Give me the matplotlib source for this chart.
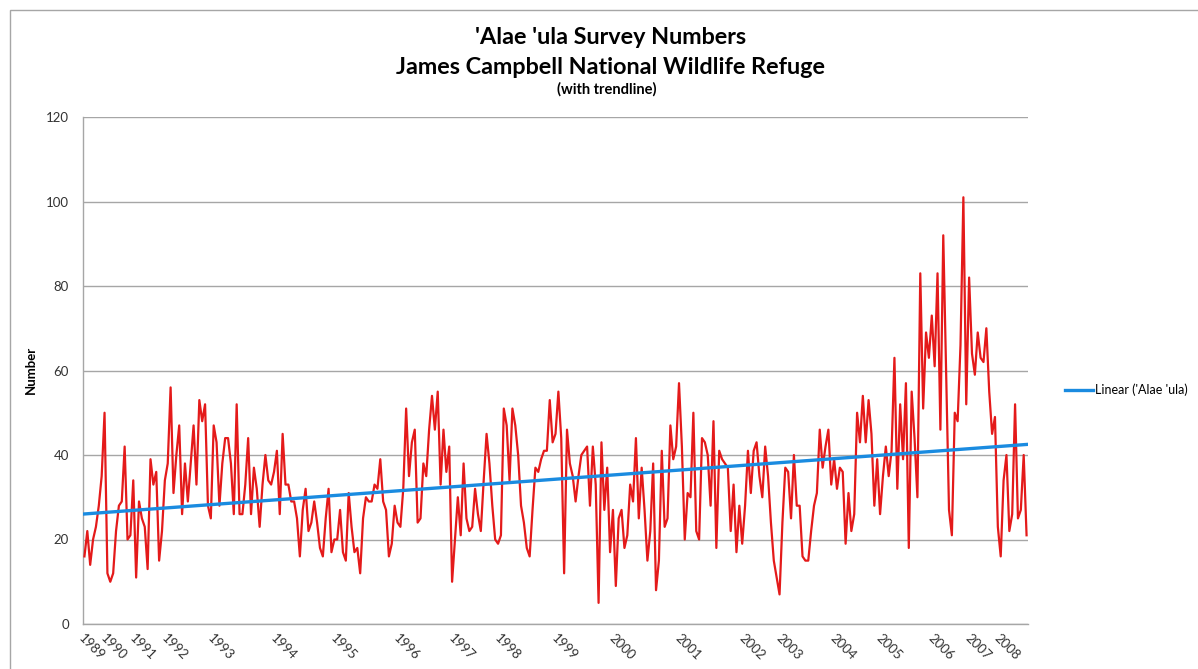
import numpy as np
import matplotlib
matplotlib.use("Agg")
import matplotlib.pyplot as plt
from matplotlib.patches import Rectangle

# survey counts, in survey order
counts = [
    16, 22, 14, 20, 23, 28, 35, 50, 12, 10, 12, 22, 28, 29, 42, 20, 21, 34, 11, 29,
    25, 23, 13, 39, 33, 36, 15, 22, 34, 38, 56, 31, 40, 47, 26, 38, 29, 38, 47, 33,
    53, 48, 52, 28, 25, 47, 43, 28, 38, 44, 44, 38, 26, 52, 26, 26, 33, 44, 26, 37,
    32, 23, 33, 40, 34, 33, 36, 41, 26, 45, 33, 33, 29, 29, 25, 16, 27, 32, 22,
    24, 29, 24, 18, 16, 25, 32, 17, 20, 20, 27, 17, 15, 31, 23, 17, 18, 12, 25, 30,
    29, 29, 33, 32, 39, 29, 27, 16, 19, 28, 24, 23, 32, 51, 35, 43, 46, 24, 25, 38,
    35, 46, 54, 46, 55, 33, 46, 36, 42, 10, 20, 30, 21, 38, 25, 22, 23, 32, 26, 22,
    34, 45, 38, 28, 20, 19, 21, 51, 47, 34, 51, 47, 40, 28, 24, 18,
    16, 27, 37, 36, 39, 41, 41, 53, 43, 45, 55, 44, 12, 46, 38, 35, 29, 35, 40, 41,
    42, 28, 42, 33, 5, 43, 27, 37, 17, 27, 9, 25, 27, 18, 21, 33, 29, 44, 25, 37,
    27, 15, 22, 38, 8, 15, 41, 23, 25, 47, 39, 42, 57, 42, 20, 31, 30, 50, 22, 20,
    44, 43, 40, 28, 48, 18, 41, 39, 38, 37, 22, 33, 17, 28, 19, 28, 41, 31,
    41, 43, 35, 30, 42, 35, 24, 15, 11, 7, 24, 37, 36, 25, 40, 28, 28, 16, 15, 15,
    22, 28, 31, 46, 37, 42, 46, 33, 39, 32, 37, 36, 19, 31, 22, 26, 50, 43, 54,
    43, 53, 45, 28, 39, 26, 35, 42, 35, 41, 63, 32, 52, 39, 57, 18, 55, 44, 30, 83,
    51, 69, 63, 73, 61, 83, 46, 92, 59, 27, 21, 50, 48, 66, 101, 52, 82, 64, 59, 69,
    63, 62, 70, 55, 45, 49, 23, 16, 34, 40, 22, 26, 52, 25, 27, 40, 21,
]

year_labels = ['1989', '1990', '1991', '1992', '1993', '1994', '1995', '1996', '1997', '1998',
               '1999', '2000', '2001', '2002', '2003', '2004', '2005', '2006', '2007', '2008']
surveys_per_year = [8, 10, 11, 16, 22, 21, 22, 19, 16, 20,
                    20, 23, 22, 13, 19, 16, 18, 13, 10, 10]

FONT = ['Lato', 'DejaVu Sans']
plt.rcParams['font.family'] = FONT

fig = plt.figure(figsize=(11.98, 6.69), dpi=100)
fig.patches.append(Rectangle((10 / 1198, -0.01), 1.0, 1 - 10 / 669 + 0.01, transform=fig.transFigure,
                             fill=False, edgecolor='#a6a6a6', linewidth=1.0))

ax = fig.add_axes([83 / 1198, 1 - 624 / 669, (1028 - 83) / 1198, (624 - 117) / 669])

x = np.arange(len(counts))
y = np.array(counts, dtype=float)
ax.plot(x, y, color='#e41a1a', linewidth=1.6, zorder=3)

# linear trendline fitted to the counts
slope, intercept = np.polyfit(x, y, 1)
xt = np.array([-0.5, len(counts) - 0.5])
ax.plot(xt, slope * xt + intercept, color='#1a8be0', linewidth=2.4, zorder=4,
        label="Linear ('Alae 'ula)")

ax.set_xlim(-0.5, len(counts) - 0.5)
ax.set_ylim(0, 120)
ax.set_yticks(range(0, 121, 20))
ax.yaxis.grid(True, color='#a6a6a6', linewidth=1.0)
ax.set_axisbelow(True)
for s in ['top', 'right']:
    ax.spines[s].set_visible(False)
for s in ['left', 'bottom']:
    ax.spines[s].set_color('#a6a6a6')
    ax.spines[s].set_linewidth(1.0)
ax.tick_params(axis='y', length=0, labelsize=9.5, pad=10, labelcolor='#333333')
ax.tick_params(axis='x', length=0, labelsize=9.5, pad=6, labelcolor='#333333')

starts = np.concatenate([[0], np.cumsum(surveys_per_year)[:-1]])
ax.set_xticks(starts)
ax.set_xticklabels(year_labels, rotation=-45, ha='left', va='top', rotation_mode='anchor')

ax.set_ylabel('Number', fontsize=9.5, fontweight='bold')
ax.yaxis.set_label_coords((37 - 83) / 945, (624 - 370) / 507)

fig.text(611 / 1198, 1 - 37 / 669, "'Alae 'ula Survey Numbers", ha='center', va='center',
         fontsize=16.8, fontweight='bold')
fig.text(611 / 1198, 1 - 67 / 669, "James Campbell National Wildlife Refuge", ha='center', va='center',
         fontsize=16.8, fontweight='bold')
fig.text(607 / 1198, 1 - 89 / 669, "(with trendline)", ha='center', va='center',
         fontsize=10.5, fontweight='bold')

fig.legend(loc='center left', bbox_to_anchor=(1054 / 1198, 1 - 390 / 669), frameon=False,
           fontsize=9, handlelength=2.2, handletextpad=0.2)

fig.savefig('out.png', dpi=100)
